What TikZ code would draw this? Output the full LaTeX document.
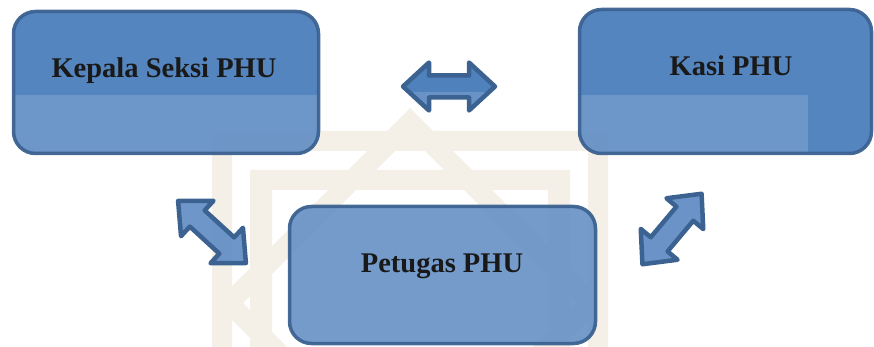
\documentclass[tikz,border=0pt]{standalone}
\usepackage{fontspec}
\setmainfont{Liberation Serif}
\definecolor{boxblue}{HTML}{4F81BD}
\definecolor{boxlight}{HTML}{6690C5}
\definecolor{boxedge}{HTML}{3C6291}
\definecolor{wmark}{HTML}{F4F0E7}
\tikzset{
  boxshape/.style={rectangle, rounded corners=22pt, minimum width=#1, outer sep=0pt, inner sep=0pt},
  boxfill/.style={fill=boxblue, fill opacity=0.97},
  boxborder/.style={draw=boxedge, line width=3.5pt, rounded corners=22pt, draw opacity=0.95},
  band/.style={fill=white, fill opacity=0.15},
  lbl/.style={font=\bfseries\fontsize{28.5pt}{30pt}\selectfont, text=black!90, anchor=base, inner sep=0pt},
  arrowpath/.style={line width=4.5pt, draw=boxedge, line join=round},
  pics/dblarrow/.style={code={
    \fill[#1] (-46,0) -- (-20,-24) -- (-20,-11) -- (20,-11) -- (20,-24) -- (46,0)
         -- (20,24) -- (20,11) -- (-20,11) -- (-20,24) -- cycle;
  }},
  pics/dblarrowedge/.style={code={
    \draw[arrowpath] (-46,0) -- (-20,-24) -- (-20,-11) -- (20,-11) -- (20,-24) -- (46,0)
         -- (20,24) -- (20,11) -- (-20,11) -- (-20,24) -- cycle;
  }}
}
\begin{document}
\begin{tikzpicture}[x=1pt,y=-1pt]
\useasboundingbox (0,0) rectangle (874,347);
% faint watermark
\fill[wmark, even odd rule] (212,131) rectangle (608,400) (232,151) rectangle (588,400);
\fill[wmark, even odd rule] (250,170) rectangle (570,400) (272,190) rectangle (548,400);
\fill[wmark, even odd rule] (410,108) -- (605,303) -- (410,498) -- (215,303) -- cycle
     (410,136) -- (577,303) -- (410,470) -- (243,303) -- cycle;
% boxes
\node[boxshape=305pt, minimum height=142pt, boxfill] (kepala) at (166,82.5) {};
\begin{scope}
  \clip[rounded corners=22pt] (kepala.south west) rectangle (kepala.north east);
  \fill[band] (kepala.west |- 0,95) rectangle (kepala.south east);
\end{scope}
\draw[boxborder] (kepala.south west) rectangle (kepala.north east);
\node[lbl] (tkepala) at (164,78) {Kepala Seksi PHU};

\node[boxshape=292pt, minimum height=144pt, boxfill] (kasi) at (725.5,81.5) {};
\begin{scope}
  \clip[rounded corners=22pt] (kasi.south west) rectangle (kasi.north east);
  \fill[band] (kasi.west |- 0,95) rectangle (808,160);
\end{scope}
\draw[boxborder] (kasi.south west) rectangle (kasi.north east);
\node[lbl] (tkasi) at (731,76) {Kasi PHU};

\node[boxshape=306pt, minimum height=137pt, fill=boxlight, fill opacity=0.9] (petugas) at (442.5,275) {};
\draw[boxborder] (petugas.south west) rectangle (petugas.north east);
\node[lbl] (tpetugas) at (442,272) {Petugas PHU};

% double block arrows
\coordinate (aTop) at (449,86.5);
\coordinate (aLeft) at (212,232);
\coordinate (aRight) at (672,229);
\pic at (aTop) {dblarrow={fill=boxblue}};
\begin{scope}
  \clip (395,93) rectangle (505,118);
  \pic at (aTop) {dblarrow={fill=white, fill opacity=0.15}};
\end{scope}
\pic at (aTop) {dblarrowedge};
\pic[rotate=-42.5] at (aLeft) {dblarrow={fill=boxlight, fill opacity=0.95}};
\pic[rotate=-42.5] at (aLeft) {dblarrowedge};
\pic[rotate=50] at (aRight) {dblarrow={fill=boxlight, fill opacity=0.97}};
\pic[rotate=50] at (aRight) {dblarrowedge};
\end{tikzpicture}
\end{document}
